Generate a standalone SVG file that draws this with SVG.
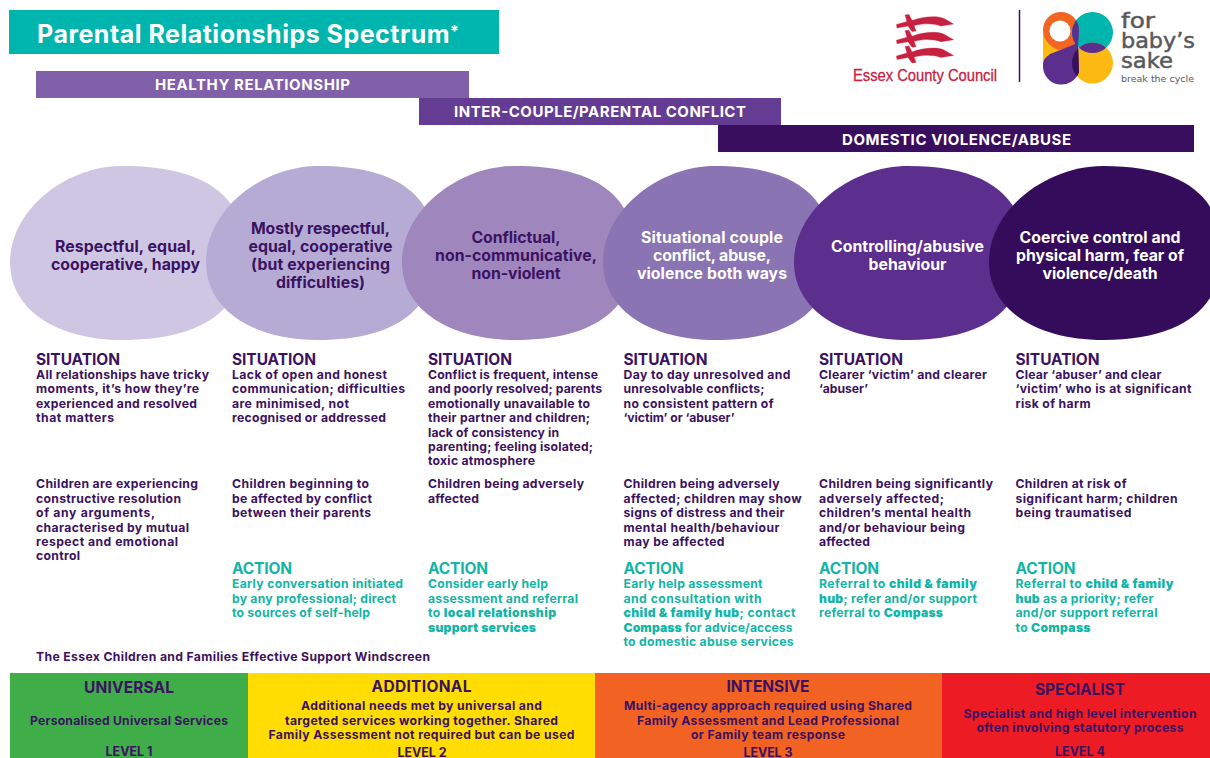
<svg xmlns="http://www.w3.org/2000/svg" width="1210" height="758" viewBox="0 0 1210 758">
<style>
text{font-family:Inter,"Noto Sans","Liberation Sans",sans-serif;font-weight:700}
.b{font-size:12.2px;fill:#3b1261}
.h{font-size:15.5px;fill:#3b1261}
.a{font-size:12.2px;fill:#12b5a6}
.ah{font-size:15.5px;fill:#12b5a6}
.s{font-weight:900}
.bar{font-size:15px;fill:#fff;text-anchor:middle}
.e{font-size:15.8px;text-anchor:middle;fill:#3b1261}
.w{fill:#fff}
.t{font-size:15.5px;fill:#3b1261;text-anchor:middle}
.d{font-size:12.2px;fill:#3b1261;text-anchor:middle}
.l{font-size:12.5px;fill:#3b1261;text-anchor:middle}
.fb{font-family:"DejaVu Sans",sans-serif;font-weight:400;fill:#58595b;stroke:#58595b;stroke-width:.5}
</style>
<defs>
<clipPath id="ct"><circle cx="1092.5" cy="32.5" r="20.5"/></clipPath>
<clipPath id="cy"><circle cx="1092.5" cy="63" r="20.5"/></clipPath>
<path id="sx" fill="#c8203f" stroke="#c8203f" stroke-width=".4" d="M896.5,24.5 L907,21.500 L905,15 L909,14.500 L912,20.500 C922,17 936,15 944,18.500 L953.500,24 L941,26 C934,23.500 924,23 914,25.500 L916,31 L912,31.500 L908,26 L897,28Z"/>
</defs>
<g id="title"><rect x="9" y="10" width="490" height="44" fill="#00b5ad"/><text x="37" y="43" font-size="25" fill="#fff" textLength="422">Parental Relationships Spectrum<tspan font-size="16" dy="-6">*</tspan></text></g>
<g id="bar-healthy"><rect x="36" y="71" width="433" height="27" fill="#8060a8"/><text class="bar" x="252.500" y="90" textLength="195">HEALTHY RELATIONSHIP</text></g>
<g id="bar-conflict"><rect x="419" y="98" width="362" height="27" fill="#643c93"/><text class="bar" x="600" y="117" textLength="292">INTER-COUPLE/PARENTAL CONFLICT</text></g>
<g id="bar-abuse"><rect x="718" y="125" width="476" height="27" fill="#390e5e"/><text class="bar" x="956.500" y="144.500" textLength="229">DOMESTIC VIOLENCE/ABUSE</text></g>
<g id="logo-essex">
<use href="#sx"/><use href="#sx" y="15.700"/><use href="#sx" y="31.400"/>
<text x="853" y="81" font-size="17" textLength="144" lengthAdjust="spacingAndGlyphs" style="font-family:'Liberation Sans',sans-serif;font-weight:400" fill="#c8203f" stroke="#c8203f" stroke-width=".3">Essex County Council</text>
</g>
<path id="divider" d="M1019.500 10V82" stroke="#3b1261" stroke-width="1.500" fill="none"/>
<g id="logo-fbs">
<path d="M1043,33H1060L1068,47L1043,65Z" fill="#fdb913"/>
<path d="M1043,30a18,18,0,0,1,36,0c0,7-1,12-1,16L1058,50C1049,46 1043,39 1043,30Z" fill="#f26522"/>
<circle cx="1060" cy="31" r="10.500" fill="#fff"/>
<circle cx="1092.500" cy="32.500" r="20.500" fill="#00b5ad"/>
<circle cx="1092.500" cy="63" r="20.500" fill="#fdb913"/>
<path d="M1043,65C1043,60 1046,57 1050,54L1078,43L1079,72A18.500,18.500,0,0,1,1043,65Z" fill="#5c2e8d"/>
<path d="M1043,30a18,18,0,0,1,36,0c0,7-1,12-1,16L1058,50C1049,46 1043,39 1043,30Z" fill="#5c2e8d" clip-path="url(#ct)"/>
<circle cx="1092.500" cy="32.500" r="20.500" fill="#5c2e8d" clip-path="url(#cy)"/>
<path d="M1043,65C1043,60 1046,57 1050,54L1078,43L1079,72A18.500,18.500,0,0,1,1043,65Z" fill="#3a0f5e" clip-path="url(#cy)"/>
<text class="fb" x="1121" y="28" font-size="22" textLength="34" lengthAdjust="spacingAndGlyphs">for</text>
<text class="fb" x="1121" y="48" font-size="22" textLength="74" lengthAdjust="spacingAndGlyphs">baby’s</text>
<text class="fb" x="1121" y="68" font-size="22" textLength="52" lengthAdjust="spacingAndGlyphs">sake</text>
<text x="1121" y="82" font-size="9.500" textLength="73" lengthAdjust="spacingAndGlyphs" style="font-family:'DejaVu Sans',sans-serif;font-weight:400" fill="#58595b">break the cycle</text>
</g>
<g id="node-1"><path d="M10,262 C10,210 66,166 122,166 C208,166 245,198 245,253 C245,305 208,340 122,340 C60,340 10,312 10,262Z" fill="#cfc6e3"/>
<text class="e" x="125.500" y="252" textLength="141">Respectful, equal,</text>
<text class="e" x="125.500" y="270" textLength="149">cooperative, happy</text></g>
<g id="node-2"><path d="M206,262 C206,210 262,166 318,166 C401,166 436,198 436,253 C436,305 401,340 318,340 C256,340 206,312 206,262Z" fill="#b6abd4"/>
<text class="e" x="320.500" y="234" textLength="139">Mostly respectful,</text>
<text class="e" x="320.500" y="252" textLength="144">equal, cooperative</text>
<text class="e" x="320.500" y="270" textLength="139">(but experiencing</text>
<text class="e" x="320.500" y="288" textLength="89">difficulties)</text></g>
<g id="node-3"><path d="M402,262 C402,210 458.500,166 515,166 C599,166 635,198 635,253 C635,305 599,340 515,340 C453,340 402,312 402,262Z" fill="#9f86bd"/>
<text class="e" x="516" y="243" textLength="89">Conflictual,</text>
<text class="e" x="516" y="261" textLength="162">non-communicative,</text>
<text class="e" x="516" y="279" textLength="89">non-violent</text></g>
<g id="node-4"><path d="M603,262 C603,210 659,166 715,166 C797,166 832,198 832,253 C832,305 797,340 715,340 C653,340 603,312 603,262Z" fill="#8a74b3"/>
<text class="e w" x="712" y="243" textLength="142">Situational couple</text>
<text class="e w" x="712" y="261" textLength="118">conflict, abuse,</text>
<text class="e w" x="712" y="279" textLength="150">violence both ways</text></g>
<g id="node-5"><path d="M794,262 C794,210 851,166 908,166 C990,166 1025,198 1025,253 C1025,305 990,340 908,340 C845,340 794,312 794,262Z" fill="#5c2e8d"/>
<text class="e w" x="907.500" y="252" textLength="153">Controlling/abusive</text>
<text class="e w" x="907.500" y="270" textLength="78">behaviour</text></g>
<g id="node-6"><path d="M989,262 C989,210 1046,166 1103,166 C1186,166 1222,198 1222,253 C1222,305 1186,340 1103,340 C1040,340 989,312 989,262Z" fill="#340c5b"/>
<text class="e w" x="1100" y="243" textLength="161">Coercive control and</text>
<text class="e w" x="1100" y="261" textLength="168">physical harm, fear of</text>
<text class="e w" x="1100" y="279" textLength="115">violence/death</text></g>
<g id="col-1">
<text class="h" x="36" y="364.500" textLength="84">SITUATION</text>
<text class="b" x="36" y="379" textLength="173">All relationships have tricky</text>
<text class="b" x="36" y="393.400" textLength="163">moments, it’s how they’re</text>
<text class="b" x="36" y="407.800" textLength="161">experienced and resolved</text>
<text class="b" x="36" y="422.200" textLength="78">that matters</text>
<text class="b" x="36" y="488.400" textLength="162">Children are experiencing</text>
<text class="b" x="36" y="502.800" textLength="145">constructive resolution</text>
<text class="b" x="36" y="517.200" textLength="119">of any arguments,</text>
<text class="b" x="36" y="531.600" textLength="153">characterised by mutual</text>
<text class="b" x="36" y="546" textLength="142">respect and emotional</text>
<text class="b" x="36" y="560.400" textLength="44">control</text>
</g>
<g id="col-2">
<text class="h" x="232" y="364.500" textLength="84">SITUATION</text>
<text class="b" x="232" y="379" textLength="155">Lack of open and honest</text>
<text class="b" x="232" y="393.400" textLength="173">communication; difficulties</text>
<text class="b" x="232" y="407.800" textLength="117">are minimised, not</text>
<text class="b" x="232" y="422.200" textLength="154">recognised or addressed</text>
<text class="b" x="232" y="488.400" textLength="137">Children beginning to</text>
<text class="b" x="232" y="502.800" textLength="140">be affected by conflict</text>
<text class="b" x="232" y="517.200" textLength="139">between their parents</text>
<text class="ah" x="232" y="574" textLength="60">ACTION</text>
<text class="a" x="232" y="588.400" textLength="171">Early conversation initiated</text>
<text class="a" x="232" y="602.800" textLength="164">by any professional; direct</text>
<text class="a" x="232" y="617.200" textLength="138">to sources of self-help</text>
</g>
<g id="col-3">
<text class="h" x="428" y="364.500" textLength="84">SITUATION</text>
<text class="b" x="428" y="379" textLength="170">Conflict is frequent, intense</text>
<text class="b" x="428" y="393.400" textLength="174">and poorly resolved; parents</text>
<text class="b" x="428" y="407.800" textLength="162">emotionally unavailable to</text>
<text class="b" x="428" y="422.200" textLength="162">their partner and children;</text>
<text class="b" x="428" y="436.600" textLength="131">lack of consistency in</text>
<text class="b" x="428" y="451" textLength="165">parenting; feeling isolated;</text>
<text class="b" x="428" y="465.400" textLength="107">toxic atmosphere</text>
<text class="b" x="428" y="488.400" textLength="156">Children being adversely</text>
<text class="b" x="428" y="502.800" textLength="51">affected</text>
<text class="ah" x="428" y="574" textLength="60">ACTION</text>
<text class="a" x="428" y="588.400" textLength="120">Consider early help</text>
<text class="a" x="428" y="602.800" textLength="150">assessment and referral</text>
<text class="a" x="428" y="617.200" textLength="128">to <tspan class="s">local relationship</tspan></text>
<text class="a s" x="428" y="631.600" textLength="108">support services</text>
</g>
<g id="col-4">
<text class="h" x="623.500" y="364.500" textLength="84">SITUATION</text>
<text class="b" x="623.500" y="379" textLength="167">Day to day unresolved and</text>
<text class="b" x="623.500" y="393.400" textLength="141">unresolvable conflicts;</text>
<text class="b" x="623.500" y="407.800" textLength="150">no consistent pattern of</text>
<text class="b" x="623.500" y="422.200" textLength="111">‘victim’ or ‘abuser’</text>
<text class="b" x="623.500" y="488.400" textLength="156">Children being adversely</text>
<text class="b" x="623.500" y="502.800" textLength="178">affected; children may show</text>
<text class="b" x="623.500" y="517.200" textLength="161">signs of distress and their</text>
<text class="b" x="623.500" y="531.600" textLength="156">mental health/behaviour</text>
<text class="b" x="623.500" y="546" textLength="101">may be affected</text>
<text class="ah" x="623.500" y="574" textLength="60">ACTION</text>
<text class="a" x="623.500" y="588.400" textLength="139">Early help assessment</text>
<text class="a" x="623.500" y="602.800" textLength="138">and consultation with</text>
<text class="a" x="623.500" y="617.200" textLength="172"><tspan class="s">child &amp; family hub</tspan>; contact</text>
<text class="a" x="623.500" y="631.600" textLength="169"><tspan class="s">Compass</tspan> for advice/access</text>
<text class="a" x="623.500" y="646" textLength="170">to domestic abuse services</text>
</g>
<g id="col-5">
<text class="h" x="819" y="364.500" textLength="84">SITUATION</text>
<text class="b" x="819" y="379" textLength="168">Clearer ‘victim’ and clearer</text>
<text class="b" x="819" y="393.400" textLength="49">‘abuser’</text>
<text class="b" x="819" y="488.400" textLength="174">Children being significantly</text>
<text class="b" x="819" y="502.800" textLength="125">adversely affected;</text>
<text class="b" x="819" y="517.200" textLength="152">children’s mental health</text>
<text class="b" x="819" y="531.600" textLength="146">and/or behaviour being</text>
<text class="b" x="819" y="546" textLength="51">affected</text>
<text class="ah" x="819" y="574" textLength="60">ACTION</text>
<text class="a" x="819" y="588.400" textLength="158">Referral to <tspan class="s">child &amp; family</tspan></text>
<text class="a" x="819" y="602.800" textLength="158"><tspan class="s">hub</tspan>; refer and/or support</text>
<text class="a" x="819" y="617.200" textLength="124">referral to <tspan class="s">Compass</tspan></text>
</g>
<g id="col-6">
<text class="h" x="1015.500" y="364.500" textLength="84">SITUATION</text>
<text class="b" x="1015.500" y="379" textLength="146">Clear ‘abuser’ and clear</text>
<text class="b" x="1015.500" y="393.400" textLength="176">‘victim’ who is at significant</text>
<text class="b" x="1015.500" y="407.800" textLength="75">risk of harm</text>
<text class="b" x="1015.500" y="488.400" textLength="111">Children at risk of</text>
<text class="b" x="1015.500" y="502.800" textLength="162">significant harm; children</text>
<text class="b" x="1015.500" y="517.200" textLength="116">being traumatised</text>
<text class="ah" x="1015.500" y="574" textLength="60">ACTION</text>
<text class="a" x="1015.500" y="588.400" textLength="158">Referral to <tspan class="s">child &amp; family</tspan></text>
<text class="a" x="1015.500" y="602.800" textLength="138"><tspan class="s">hub</tspan> as a priority; refer</text>
<text class="a" x="1015.500" y="617.200" textLength="142">and/or support referral</text>
<text class="a" x="1015.500" y="631.600" textLength="75">to <tspan class="s">Compass</tspan></text>
</g>
<text id="windscreen" x="36" y="661" font-size="12.200" fill="#3b1261" textLength="394">The Essex Children and Families Effective Support Windscreen</text>
<g id="band-universal"><rect x="10" y="673" width="238" height="85" fill="#3fae49"/>
<text class="t" x="129" y="693" textLength="90">UNIVERSAL</text>
<text class="d" x="129" y="724.500" textLength="198">Personalised Universal Services</text>
<text class="l" x="129" y="756" textLength="47">LEVEL 1</text></g>
<g id="band-additional"><rect x="248" y="673" width="347" height="85" fill="#ffdd00"/>
<text class="t" x="421.500" y="691.500" textLength="100">ADDITIONAL</text>
<text class="d" x="421.500" y="710" textLength="241">Additional needs met by universal and</text>
<text class="d" x="421.500" y="724.500" textLength="273">targeted services working together. Shared</text>
<text class="d" x="421.500" y="739" textLength="306">Family Assessment not required but can be used</text>
<text class="l" x="422" y="757" textLength="49">LEVEL 2</text></g>
<g id="band-intensive"><rect x="595" y="673" width="347" height="85" fill="#f26323"/>
<text class="t" x="768" y="691.500" textLength="83">INTENSIVE</text>
<text class="d" x="768" y="710" textLength="288">Multi-agency approach required using Shared</text>
<text class="d" x="768" y="724.500" textLength="262">Family Assessment and Lead Professional</text>
<text class="d" x="768" y="739" textLength="154">or Family team response</text>
<text class="l" x="768" y="757" textLength="49">LEVEL 3</text></g>
<g id="band-specialist"><rect x="942" y="673" width="268" height="85" fill="#ed1c24"/>
<text class="t" x="1080" y="695" textLength="90">SPECIALIST</text>
<text class="d" x="1080" y="717.500" textLength="233">Specialist and high level intervention</text>
<text class="d" x="1080" y="732" textLength="207">often involving statutory process</text>
<text class="l" x="1080" y="755.500" textLength="50">LEVEL 4</text></g>
</svg>
